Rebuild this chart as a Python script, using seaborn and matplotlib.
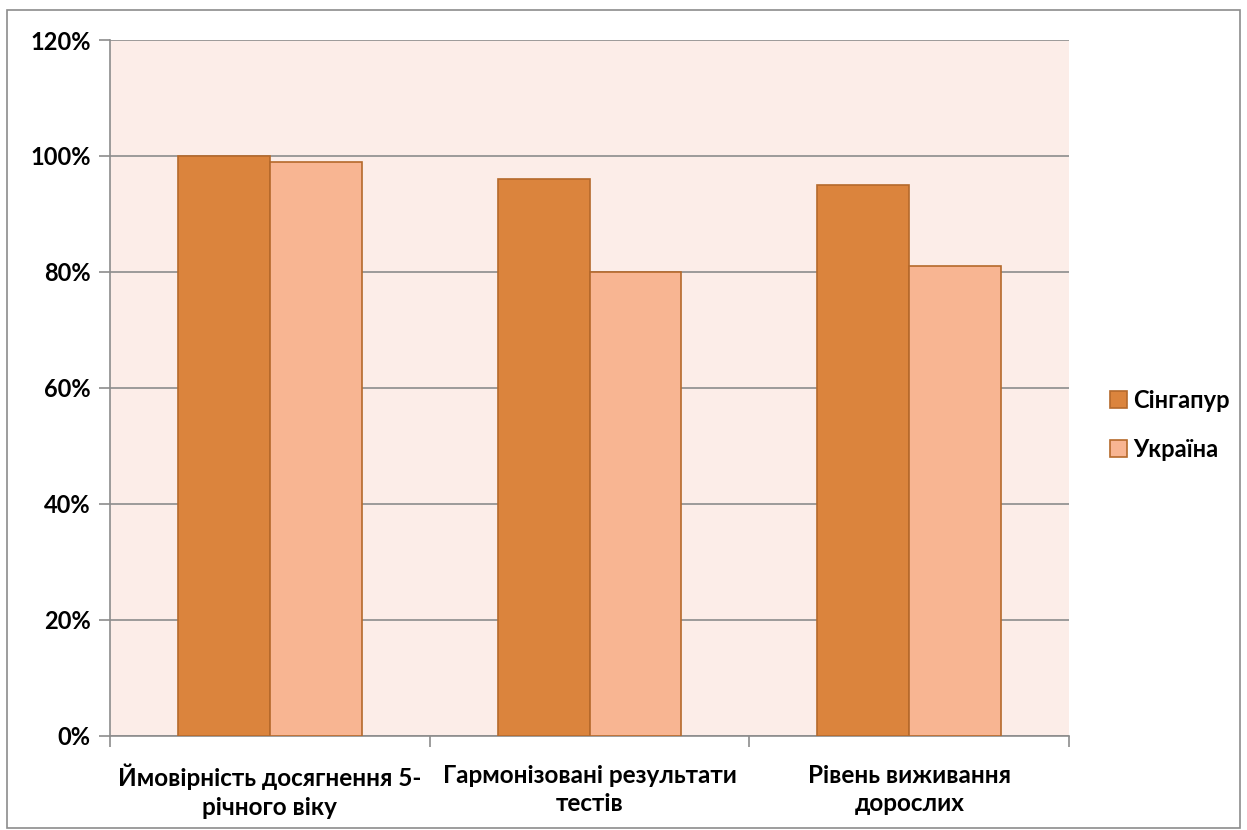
import pandas as pd
import matplotlib.pyplot as plt
import seaborn as sns
from matplotlib.patches import Rectangle
from matplotlib.ticker import FuncFormatter

# дані з діаграми
categories = ['Ймовірність досягнення 5-\nрічного віку',
              'Гармонізовані результати\nтестів',
              'Рівень виживання\nдорослих']
countries = ['Сінгапур', 'Україна']
singapore = [100, 96, 95]
ukraine = [99, 80, 81]

df = pd.DataFrame({
    'category': categories * 2,
    'country': [countries[0]] * 3 + [countries[1]] * 3,
    'value': singapore + ukraine,
})

sns.set_style('white')
plt.rcParams['font.family'] = ['Lato', 'Open Sans', 'DejaVu Sans']
plt.rcParams['font.weight'] = 'bold'
plt.rcParams['text.color'] = 'black'
plt.rcParams['xtick.color'] = 'black'
plt.rcParams['ytick.color'] = 'black'

fig = plt.figure(figsize=(12.47, 8.3), dpi=100)
ax = fig.add_axes([0.0882, 0.1133, 0.7691, 0.8385])

palette = {'Сінгапур': '#DB843D', 'Україна': '#F8B592'}
sns.barplot(data=df, x='category', y='value', hue='country', palette=palette,
            width=0.575, saturation=1, edgecolor='#B5692B', linewidth=1.2,
            ax=ax, zorder=3)

ax.set_facecolor('#FCEDE8')
ax.set_ylim(0, 120)
ax.set_xlim(-0.5, 2.5)
ax.set_yticks(range(0, 121, 20))
ax.yaxis.set_major_formatter(FuncFormatter(lambda v, p: f'{v:.0f}%'))
ax.grid(axis='y', color='#8C8C8C', linewidth=1.2, zorder=0)
ax.set_axisbelow(True)
ax.set_xlabel('')
ax.set_ylabel('')

for s in ['top', 'right']:
    ax.spines[s].set_visible(False)
for s in ['left', 'bottom']:
    ax.spines[s].set_color('#8C8C8C')
    ax.spines[s].set_linewidth(1.2)

ax.tick_params(axis='y', left=True, length=8, color='#8C8C8C', labelcolor='black',
               width=1.2, labelsize=17, pad=6)
ax.set_xticks([-0.5, 0.5, 1.5, 2.5], minor=True)
ax.tick_params(axis='x', which='minor', bottom=True, length=8, color='#8C8C8C', width=1.2)
ax.tick_params(axis='x', which='major', length=0, labelsize=17.5, labelcolor='black', pad=20)
for t in ax.get_xticklabels() + ax.get_yticklabels():
    t.set_fontweight('bold')
    t.set_linespacing(1.3)

ax.legend(loc='center left', bbox_to_anchor=(1.021, 0.447), frameon=False,
          prop={'size': 17, 'weight': 'bold'}, handlelength=0.7, handleheight=0.7,
          handletextpad=0.25, labelspacing=1.1)

# рамка навколо всієї діаграми
fig.patches.append(Rectangle((0.006, 0.002), 0.988, 0.986, transform=fig.transFigure,
                             fill=False, edgecolor='#8C8C8C', linewidth=1.2))

fig.savefig('out.png', dpi=100)
